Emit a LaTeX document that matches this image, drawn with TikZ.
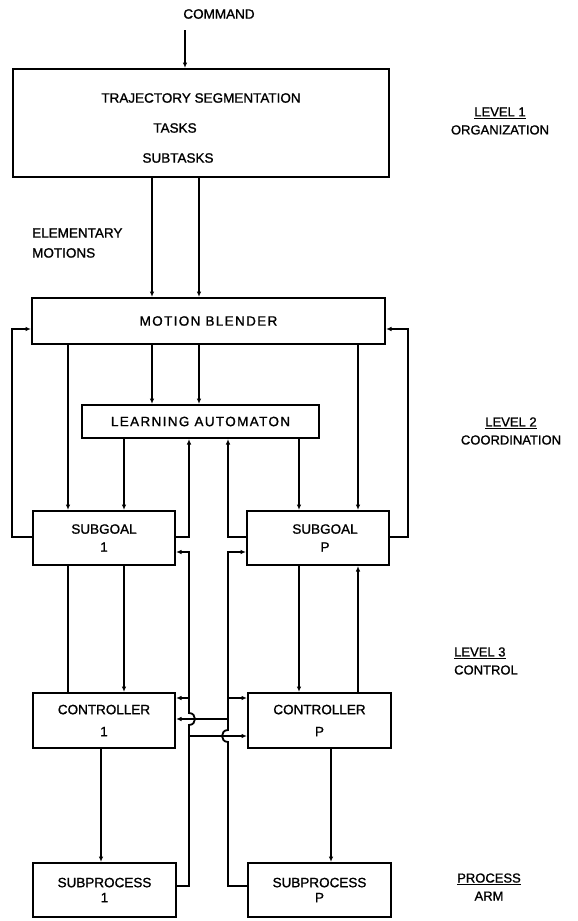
\documentclass[tikz,border=0pt]{standalone}
\usepackage{fontspec}
\setmainfont[FakeBold=1.2]{Liberation Sans}
\newfontfamily\spacedfont[LetterSpace=10,FakeBold=1.2]{Liberation Sans}
\usetikzlibrary{arrows.meta,calc}
\begin{document}
\begin{tikzpicture}[x=1pt,y=-1pt,
  box/.style={draw,line width=2pt,inner sep=0pt,align=center,font=\fontsize{13.5}{18}\selectfont},
  lbl/.style={font=\fontsize{13.5}{18}\selectfont,inner sep=0pt,align=center},
  rlbl/.style={font=\fontsize{13}{18}\selectfont,inner sep=0pt,align=center},
  wire/.style={line width=1.8pt},
  arr/.style={wire,-{Latex[length=5.5pt,width=4.5pt]}}]
\useasboundingbox (0,0) rectangle (578,921);
% columns and rows
\coordinate (c12) at (12,0);
\coordinate (c68) at (68,0);
\coordinate (c101) at (101,0);
\coordinate (c124) at (124,0);
\coordinate (c152) at (152,0);
\coordinate (c189) at (189,0);
\coordinate (c199) at (199,0);
\coordinate (c228) at (228,0);
\coordinate (c299) at (299,0);
\coordinate (c331) at (331,0);
\coordinate (c358) at (358,0);
\coordinate (c408) at (408,0);
\coordinate (r329) at (0,329);
\coordinate (r537) at (0,537);
\coordinate (r552) at (0,552);
\coordinate (r698) at (0,698);
\coordinate (r719) at (0,719);
\coordinate (r736) at (0,736);
\coordinate (r886) at (0,886);
% boxes
\node[box,minimum width=376pt,minimum height=108pt] (ts) at (201,123) {};
\node[lbl] (t1) at (201,98) {TRAJECTORY SEGMENTATION};
\node[lbl] (t2) at (175,128) {TASKS};
\node[lbl] (t3) at (178,158) {SUBTASKS};
\node[lbl] (cmd) at (219,14) {COMMAND};
\coordinate (cmdtail) at (185,30);
\node[lbl,align=left,anchor=west,font=\fontsize{13.5}{20}\selectfont] (em) at (32,243) {ELEMENTARY\\MOTIONS};
\node[box,minimum width=353pt,minimum height=46pt] (mb) at (208.5,321) {\spacedfont MOTION BLENDER};
\node[box,minimum width=237pt,minimum height=33pt] (la) at (200.5,421.5) {\spacedfont LEARNING AUTOMATON};
\node[box,minimum width=142pt,minimum height=54pt] (sg1) at (104,538) {SUBGOAL\\1};
\node[box,minimum width=142pt,minimum height=54pt] (sgp) at (318,538) {\hspace*{14pt}SUBGOAL\\\hspace*{14pt}P};
\node[box,minimum width=142pt,minimum height=55pt,font=\fontsize{13.5}{22}\selectfont] (c1) at (104,720.5) {CONTROLLER\\1};
\node[box,minimum width=143pt,minimum height=55pt,font=\fontsize{13.5}{22}\selectfont] (cp) at (319.5,720.5) {CONTROLLER\\P};
\node[box,minimum width=143pt,minimum height=54pt,font=\fontsize{13.5}{15}\selectfont] (sp1) at (104.5,890) {SUBPROCESS\\1};
\node[box,minimum width=143pt,minimum height=54pt,font=\fontsize{13.5}{15}\selectfont] (spp) at (319.5,890) {SUBPROCESS\\P};
% level labels
\node[rlbl] (lv1) at (500,121) {\underline{LEVEL 1}\\ORGANIZATION};
\node[rlbl] (lv2) at (511,431) {\underline{LEVEL 2}\\COORDINATION};
\node[rlbl,anchor=west,align=left] (lv3) at (454,661) {\underline{LEVEL 3}\\CONTROL};
\node[rlbl] (lv4) at (489,887) {\underline{PROCESS}\\ARM};
% connectors
\draw[arr] (cmdtail) -- (cmdtail |- ts.north);
\draw[arr] (ts.south -| c152) -- (mb.north -| c152);
\draw[arr] (ts.south -| c199) -- (mb.north -| c199);
\draw[arr] (mb.south -| c68) -- (sg1.north -| c68);
\draw[arr] (mb.south -| c152) -- (la.north -| c152);
\draw[arr] (mb.south -| c199) -- (la.north -| c199);
\draw[arr] (mb.south -| c358) -- (sgp.north -| c358);
\draw[arr] (la.south -| c124) -- (sg1.north -| c124);
\draw[arr] (la.south -| c299) -- (sgp.north -| c299);
\draw[arr] (sg1.east |- r537) -| (la.south -| c189);
\draw[arr] (sgp.west |- r537) -| (la.south -| c228);
\draw[arr] (sg1.west |- r537) -| (c12 |- r329) -- (mb.west |- r329);
\draw[arr] (sgp.east |- r537) -| (c408 |- r329) -- (mb.east |- r329);
\draw[wire] (sg1.south -| c68) -- (c1.north -| c68);
\draw[arr] (sg1.south -| c124) -- (c1.north -| c124);
\draw[arr] (sgp.south -| c299) -- (cp.north -| c299);
\draw[arr] (cp.north -| c358) -- (sgp.south -| c358);
\draw[arr] (c1.south -| c101) -- (sp1.north -| c101);
\draw[arr] (cp.south -| c331) -- (spp.north -| c331);
% feedback from subprocesses with hops
\draw[arr] (sp1.east |- r886) -| ($(c189 |- r719)+(0,6)$)
  .. controls +(8,0) and +(8,0) .. ($(c189 |- r719)+(0,-6)$)
  -- (c189 |- r552) -- (sg1.east |- r552);
\draw[arr] (spp.west |- r886) -| ($(c228 |- r736)+(0,6)$)
  .. controls +(-8,0) and +(-8,0) .. ($(c228 |- r736)+(0,-6)$)
  -- (c228 |- r552) -- (sgp.west |- r552);
\draw[arr] (c189 |- r698) -- (c1.east |- r698);
\draw[arr] (c228 |- r698) -- (cp.west |- r698);
\draw[arr] (c228 |- r719) -- (c1.east |- r719);
\draw[arr] (c189 |- r736) -- (cp.west |- r736);
\end{tikzpicture}
\end{document}
